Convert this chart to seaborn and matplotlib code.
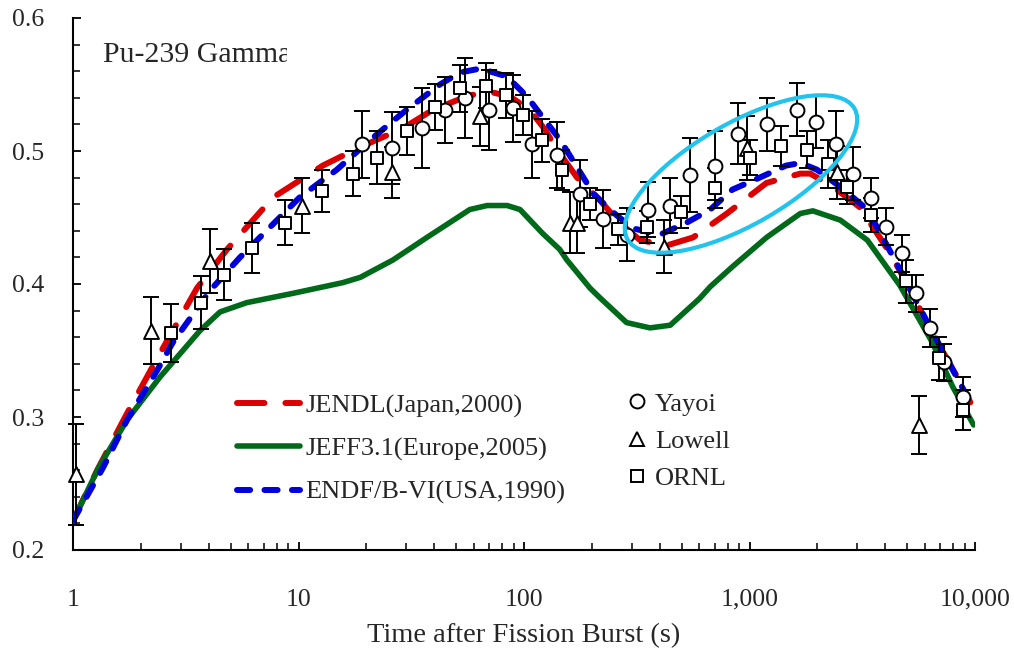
"""Pu-239 gamma decay heat: nuclear data libraries vs measurements."""
import numpy as np
import matplotlib
matplotlib.use('Agg')
import matplotlib.pyplot as plt
import seaborn as sns
from matplotlib.lines import Line2D
from matplotlib.patches import Ellipse
from matplotlib.ticker import FixedLocator, MultipleLocator, LogLocator, NullFormatter
from matplotlib.transforms import Bbox, IdentityTransform

# library curves (time s, value)
jendl_t = [1.0, 1.28, 1.74, 2.36, 3.55, 4.82, 7.7, 12.8, 18.8, 29, 39.5, 57.5, 72.7, 86.5,
           106, 124, 140, 172, 217, 265, 327, 430, 562, 794, 1190, 1680, 1860, 2350, 3070,
           4100, 4640, 5140, 6470, 8600, 9540]
jendl_y = [0.222, 0.260, 0.303, 0.344, 0.397, 0.426, 0.465, 0.489, 0.503, 0.517, 0.531, 0.542,
           0.544, 0.541, 0.531, 0.516, 0.501, 0.480, 0.463, 0.446, 0.433, 0.429, 0.435, 0.453,
           0.476, 0.483, 0.483, 0.473, 0.458, 0.426, 0.410, 0.396, 0.363, 0.326, 0.311]

jeff_t = [1.0, 1.3, 1.74, 2.43, 3.66, 4.49, 5.9, 9.46, 15.7, 18.8, 26.2, 37.1, 57.5, 68.6, 84.2,
          96, 121, 144, 155, 196, 216, 285, 362, 445, 600, 670, 840, 1190, 1680, 1910, 2530,
          3330, 4640, 6470, 7950, 9860]
jeff_y = [0.222, 0.262, 0.298, 0.330, 0.365, 0.379, 0.386, 0.393, 0.401, 0.405, 0.418, 0.435,
          0.456, 0.459, 0.459, 0.456, 0.438, 0.426, 0.418, 0.397, 0.390, 0.371, 0.367, 0.369,
          0.389, 0.398, 0.413, 0.435, 0.453, 0.455, 0.448, 0.433, 0.399, 0.356, 0.323, 0.294]

endf_t = [1.0, 1.36, 1.74, 2.36, 2.77, 4.05, 5.5, 10.1, 14.8, 20.7, 26, 30.2, 42.4, 52, 64, 84,
          103, 124, 145, 203, 240, 302, 400, 525, 670, 840, 1110, 1450, 1680, 1990, 2530, 3330,
          4350, 6470, 8000, 9750]
endf_y = [0.222, 0.262, 0.298, 0.335, 0.356, 0.395, 0.420, 0.465, 0.486, 0.508, 0.522, 0.531,
          0.550, 0.559, 0.562, 0.556, 0.541, 0.523, 0.508, 0.468, 0.456, 0.442, 0.437, 0.446,
          0.456, 0.471, 0.480, 0.489, 0.491, 0.486, 0.473, 0.456, 0.420, 0.364, 0.335, 0.308]

# measurements (time s, value, error)
yayoi_t = [19.1, 26, 35.4, 44.8, 54.7, 70, 89, 108, 140, 178, 225, 285, 355, 445, 545, 700, 890,
           1190, 1620, 1980, 2420, 2880, 3470, 4020, 4740, 5500, 6330, 7300, 8830]
yayoi_y = [0.505, 0.502, 0.517, 0.531, 0.540, 0.531, 0.532, 0.505, 0.497, 0.468, 0.449, 0.437,
           0.456, 0.459, 0.482, 0.489, 0.513, 0.520, 0.531, 0.522, 0.505, 0.483, 0.465, 0.443,
           0.423, 0.393, 0.367, 0.341, 0.315]
yayoi_e = [0.025, 0.027, 0.030, 0.025, 0.030, 0.030, 0.025, 0.025, 0.025, 0.025, 0.022, 0.020,
           0.021, 0.021, 0.028, 0.026, 0.023, 0.020, 0.020, 0.020, 0.025, 0.020, 0.015, 0.014,
           0.014, 0.014, 0.014, 0.014, 0.015]

lowell_t = [1.03, 2.22, 4.05, 10.4, 26, 64, 160, 172, 418, 970, 2450, 5640]
lowell_y = [0.257, 0.365, 0.417, 0.459, 0.484, 0.526, 0.446, 0.446, 0.428, 0.502, 0.484, 0.294]
lowell_e = [0.038, 0.025, 0.024, 0.021, 0.019, 0.022, 0.023, 0.023, 0.020, 0.024, 0.020, 0.022]

ornl_t = [2.72, 3.70, 4.67, 6.2, 8.7, 12.7, 17.4, 22.3, 30.2, 40.1, 52, 68, 83, 98.6, 120, 147,
          197, 260, 350, 495, 700, 1000, 1380, 1790, 2230, 2720, 3470, 4930, 6900, 8830]
ornl_y = [0.363, 0.386, 0.407, 0.427, 0.446, 0.470, 0.483, 0.495, 0.515, 0.533, 0.547, 0.549,
          0.542, 0.527, 0.508, 0.486, 0.460, 0.441, 0.443, 0.454, 0.472, 0.495, 0.504, 0.501,
          0.490, 0.473, 0.452, 0.402, 0.344, 0.305]
ornl_e = [0.022, 0.020, 0.019, 0.019, 0.017, 0.016, 0.017, 0.020, 0.018, 0.017, 0.018, 0.017,
          0.017, 0.015, 0.016, 0.015, 0.012, 0.012, 0.012, 0.012, 0.015, 0.013, 0.015, 0.014,
          0.018, 0.013, 0.013, 0.016, 0.016, 0.015]

x_ticks = [1, 10, 100, 1000, 10000]
x_labels = ['1', '10', '100', '1,000', '10,000']
y_ticks = [0.2, 0.3, 0.4, 0.5, 0.6]

sns.set_style('ticks')
plt.rcParams['font.family'] = ['Liberation Serif', 'DejaVu Serif']
FS = 19

fig = plt.figure(figsize=(10.14, 6.49), dpi=100)
ax = fig.add_axes([73 / 1014, 99 / 649, 902 / 1014, 532 / 649])

red, green, blue = '#DD0000', '#006A1A', '#0000DD'

sns.lineplot(x=jendl_t, y=jendl_y, ax=ax, color=red, lw=4.3, zorder=2)
l_red = ax.lines[-1]
l_red.set_dashes([4.6, 3.5])
l_red.set_dash_capstyle('round')
sns.lineplot(x=jeff_t, y=jeff_y, ax=ax, color=green, lw=4.0, zorder=3)
sns.lineplot(x=endf_t, y=endf_y, ax=ax, color=blue, lw=4.3, zorder=4)
l_blue = ax.lines[-1]
l_blue.set_dashes([2.2, 2.4])
l_blue.set_dash_capstyle('round')

meas = [(yayoi_t, yayoi_y, yayoi_e, 'o', 100),
        (lowell_t, lowell_y, lowell_e, '^', 115),
        (ornl_t, ornl_y, ornl_e, 's', 78)]
for t, y, e, m, s in meas:
    ax.errorbar(t, y, yerr=e, fmt='none', ecolor='black', elinewidth=1.4,
                capsize=5.5, capthick=1.4, zorder=5, clip_on=False)
    sns.scatterplot(x=t, y=y, ax=ax, marker=m, s=s, color='white', edgecolor='black',
                    linewidth=1.4, zorder=6, clip_on=False)

ax.set_xscale('log')
ax.set_xlim(1, 10000)
ax.set_ylim(0.2, 0.6)
ax.xaxis.set_major_locator(FixedLocator(x_ticks))
ax.set_xticks(x_ticks)
ax.set_xticklabels(x_labels)
ax.xaxis.set_minor_locator(LogLocator(base=10, subs=np.arange(2, 10)))
ax.xaxis.set_minor_formatter(NullFormatter())
ax.set_yticks(y_ticks)
ax.set_yticklabels(['0.2', '0.3', '0.4', '0.5', '0.6'])
ax.yaxis.set_minor_locator(MultipleLocator(0.02))
ax.tick_params(axis='both', which='major', direction='in', length=6, width=1.3,
               color='black', labelsize=FS - 0.5)
ax.tick_params(axis='both', which='minor', direction='in', length=5, width=1.1, color='black')
ax.tick_params(axis='x', which='major', pad=28)
ax.tick_params(axis='y', which='major', pad=21)
sns.despine(ax=ax)
for sp in ['left', 'bottom']:
    ax.spines[sp].set_linewidth(1.5)
    ax.spines[sp].set_color('black')
ax.set_xlabel('Time after Fission Burst (s)', fontsize=FS + 1.5, labelpad=9)
ax.set_ylabel('')

txt = ax.text((103 - 73) / 902, (550 - 62) / 532, 'Pu-239 Gamma', transform=ax.transAxes,
              fontsize=21.5, va='baseline', ha='left')
txt.set_clip_box(Bbox.from_extents(0, 0, 287, 649))
txt.set_clip_on(True)

ell = Ellipse((741, 649 - 174), 262, 101, angle=30, fill=False, edgecolor='#22C4EE',
              lw=3.0, transform=IdentityTransform(), zorder=8)
ax.add_artist(ell)

line_handles = [Line2D([], [], color=red, lw=4.3, dashes=[4.6, 3.5], dash_capstyle='round'),
                Line2D([], [], color=green, lw=4.0),
                Line2D([], [], color=blue, lw=4.3, dashes=[2.2, 2.4], dash_capstyle='round')]
leg1 = ax.legend(line_handles, ['JENDL(Japan,2000)', 'JEFF3.1(Europe,2005)', 'ENDF/B-VI(USA,1990)'],
                 loc='center left', bbox_to_anchor=((237 - 73) / 902, (550 - 449) / 532),
                 frameon=False, fontsize=FS, handlelength=2.4, handletextpad=0.18,
                 labelspacing=0.74, borderpad=0, borderaxespad=0)
ax.add_artist(leg1)

mark_handles = [Line2D([], [], ls='none', marker=m, markersize=np.sqrt(s), markerfacecolor='white',
                       markeredgecolor='black', markeredgewidth=1.4) for _, _, _, m, s in meas]
ax.legend(mark_handles, ['Yayoi', 'Lowell', 'ORNL'], loc='center left',
          bbox_to_anchor=((624 - 73) / 902, (550 - 441) / 532), frameon=False, fontsize=FS,
          handlelength=1.0, handletextpad=0.17, labelspacing=0.52, borderpad=0, borderaxespad=0)

fig.savefig('out.png', dpi=100)
